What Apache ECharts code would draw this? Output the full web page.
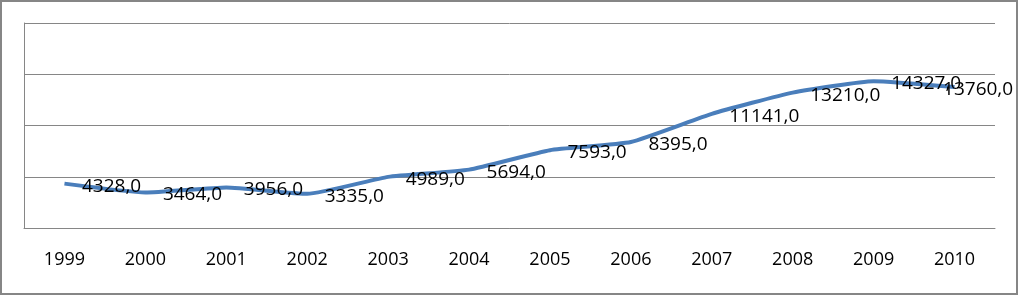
<!DOCTYPE html>
<html>
<head>
<meta charset="utf-8">
<script src="https://cdn.jsdelivr.net/npm/echarts@6/dist/echarts.min.js"></script>
<style>
  html, body { margin: 0; padding: 0; background: #fff; }
  #chart { width: 1019px; height: 296px; }
</style>
</head>
<body>
<div id="chart"></div>
<script>
var years = ["1999", "2000", "2001", "2002", "2003", "2004", "2005", "2006", "2007", "2008", "2009", "2010"];
var values = [4328, 3464, 3956, 3335, 4989, 5694, 7593, 8395, 11141, 13210, 14327, 13760];

var myChart = echarts.init(document.getElementById("chart"), null, { renderer: "canvas" });

// last label is pushed left so it stays inside the frame, like in the original
var seriesData = values.map(function (v, i) {
  if (i === values.length - 1) {
    return { value: v, label: { position: [-11, 3] } };
  }
  return v;
});

var option = {
  animation: false,
  backgroundColor: "#ffffff",
  textStyle: { fontFamily: "Open Sans" },
  graphic: [
    {
      type: "rect",
      shape: { x: 1, y: 1, width: 1016, height: 293 },
      style: { fill: "none", stroke: "#868686", lineWidth: 2 },
      z: 100
    }
  ],
  grid: {
    left: 24,
    right: 24,
    top: 23,
    bottom: 68,
    containLabel: false
  },
  xAxis: {
    type: "category",
    data: years,
    boundaryGap: true,
    axisLine: { show: true, lineStyle: { color: "#868686", width: 1 } },
    axisTick: { show: false },
    axisLabel: {
      color: "#000000",
      fontSize: 18,
      margin: 23,
      interval: 0
    }
  },
  yAxis: {
    type: "value",
    min: 0,
    max: 20000,
    interval: 5000,
    axisLine: { show: true, lineStyle: { color: "#868686", width: 1 } },
    axisTick: { show: false },
    axisLabel: { show: false },
    splitLine: { show: true, lineStyle: { color: "#868686", width: 1 } }
  },
  series: [
    {
      type: "line",
      data: seriesData,
      smooth: 0.15,
      symbol: "circle",
      symbolSize: 1,
      showSymbol: true,
      itemStyle: { color: "rgba(0,0,0,0)", borderWidth: 0 },
      lineStyle: { color: "#4a7ebb", width: 4 },
      label: {
        show: true,
        position: [18, 3],
        align: "left",
        verticalAlign: "middle",
        color: "#000000",
        fontSize: 19,
        formatter: function (p) {
          return p.value.toFixed(1).replace(".", ",");
        }
      },
      labelLayout: { hideOverlap: false },
      z: 3
    }
  ]
};

myChart.setOption(option);
</script>
</body>
</html>
